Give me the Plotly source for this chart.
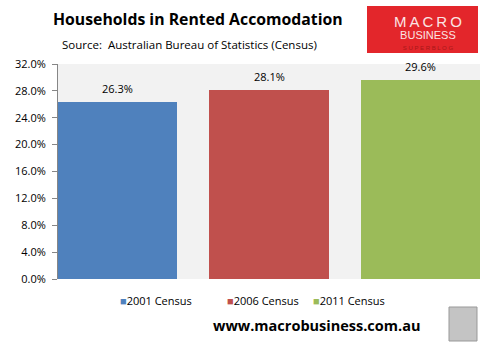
import plotly.graph_objects as go

series = ["2001 Census", "2006 Census", "2011 Census"]
values = [0.263, 0.281, 0.296]
colors = ["#4F81BD", "#C0504D", "#9BBB59"]
positions = [0, 1, 2]
ytick_vals = [0, 0.04, 0.08, 0.12, 0.16, 0.20, 0.24, 0.28, 0.32]
legend_x_px = [120, 227, 313]

L, T, PW, PH = 58, 64, 422, 215
def px(x): return (x - L) / PW
def py(y): return (T + PH - y) / PH

bar_w = 0.788
fig = go.Figure()
for name, v, c, p in zip(series, values, colors, positions):
    fig.add_trace(go.Bar(
        x=[p], y=[v], name=name, width=bar_w, showlegend=False,
        marker=dict(color=c, line=dict(width=0)),
    ))
    fig.add_annotation(x=p, y=v, xref="x", yref="y", text=f"{v*100:.1f}%",
                       showarrow=False, yshift=14, yanchor="middle",
                       font=dict(family="Open Sans", size=11, color="#000"))

fig.update_layout(
    width=488, height=344,
    margin=dict(l=L, r=488 - L - PW, t=T, b=344 - T - PH),
    paper_bgcolor="white", plot_bgcolor="#F2F2F2",
    showlegend=False,
    xaxis=dict(range=[-bar_w/2, 2 + bar_w/2], showticklabels=False, showgrid=False,
               zeroline=False, showline=False, fixedrange=True),
    yaxis=dict(range=[0, 0.32], tickvals=ytick_vals, tickformat=".1%",
               showgrid=False, zeroline=False, showline=True, linecolor="#868686",
               linewidth=1, ticks="outside", ticklen=5, tickcolor="#868686",
               ticklabelstandoff=4,
               tickfont=dict(family="Open Sans", size=11, color="#000")),
    font=dict(family="Open Sans"),
    bargap=0,
)

# Legend (manual, from series lists)
for name, c, lx in zip(series, colors, legend_x_px):
    fig.add_annotation(text=f"<span style='color:{c}'>■</span>{name}", xref="paper", yref="paper",
                       x=px(lx - 2), y=py(300), xanchor="left", yanchor="middle", showarrow=False,
                       font=dict(family="Open Sans", size=11, color="#000"))

# Title and subtitle
fig.add_annotation(text="<b>Households in Rented Accomodation</b>", xref="paper", yref="paper",
                   x=px(198), y=py(19), xanchor="center", yanchor="middle",
                   showarrow=False, font=dict(family="Open Sans", size=15.8, color="#000"))
fig.add_annotation(text="Source:  Australian Bureau of Statistics (Census)", xref="paper", yref="paper",
                   x=px(60), y=py(45), xanchor="left", yanchor="middle",
                   showarrow=False, font=dict(family="Open Sans", size=11.5, color="#000"))

# Logo box
fig.add_shape(type="rect", xref="paper", yref="paper", x0=px(367), x1=px(478), y0=py(53), y1=py(6),
              line=dict(width=0), fillcolor="#E3262B", layer="below")
fig.add_annotation(
    text=("<span style='font-size:15px'>M\u2009A\u2009C\u2009R\u2009O</span><br>"
          "<span style='font-size:11px'>BUSINESS</span><br>"
          "<span style='font-size:6px;color:#A81818'>S U P E R B L O G</span>"),
    xref="paper", yref="paper", x=px(428), y=py(32),
    xanchor="center", yanchor="middle", showarrow=False,
    font=dict(family="Liberation Sans", size=9, color="#FBE4E4"))

# URL
fig.add_annotation(text="<b>www.macrobusiness.com.au</b>", xref="paper", yref="paper",
                   x=px(316), y=py(325), xanchor="center", yanchor="middle",
                   showarrow=False, font=dict(family="Open Sans", size=14.5, color="#000"))
# wolf placeholder
fig.add_shape(type="rect", xref="paper", yref="paper", x0=px(449), x1=px(477), y0=py(341), y1=py(307),
              line=dict(color="#999", width=1), fillcolor="#C4C4C4")

fig.write_html("out.html")
